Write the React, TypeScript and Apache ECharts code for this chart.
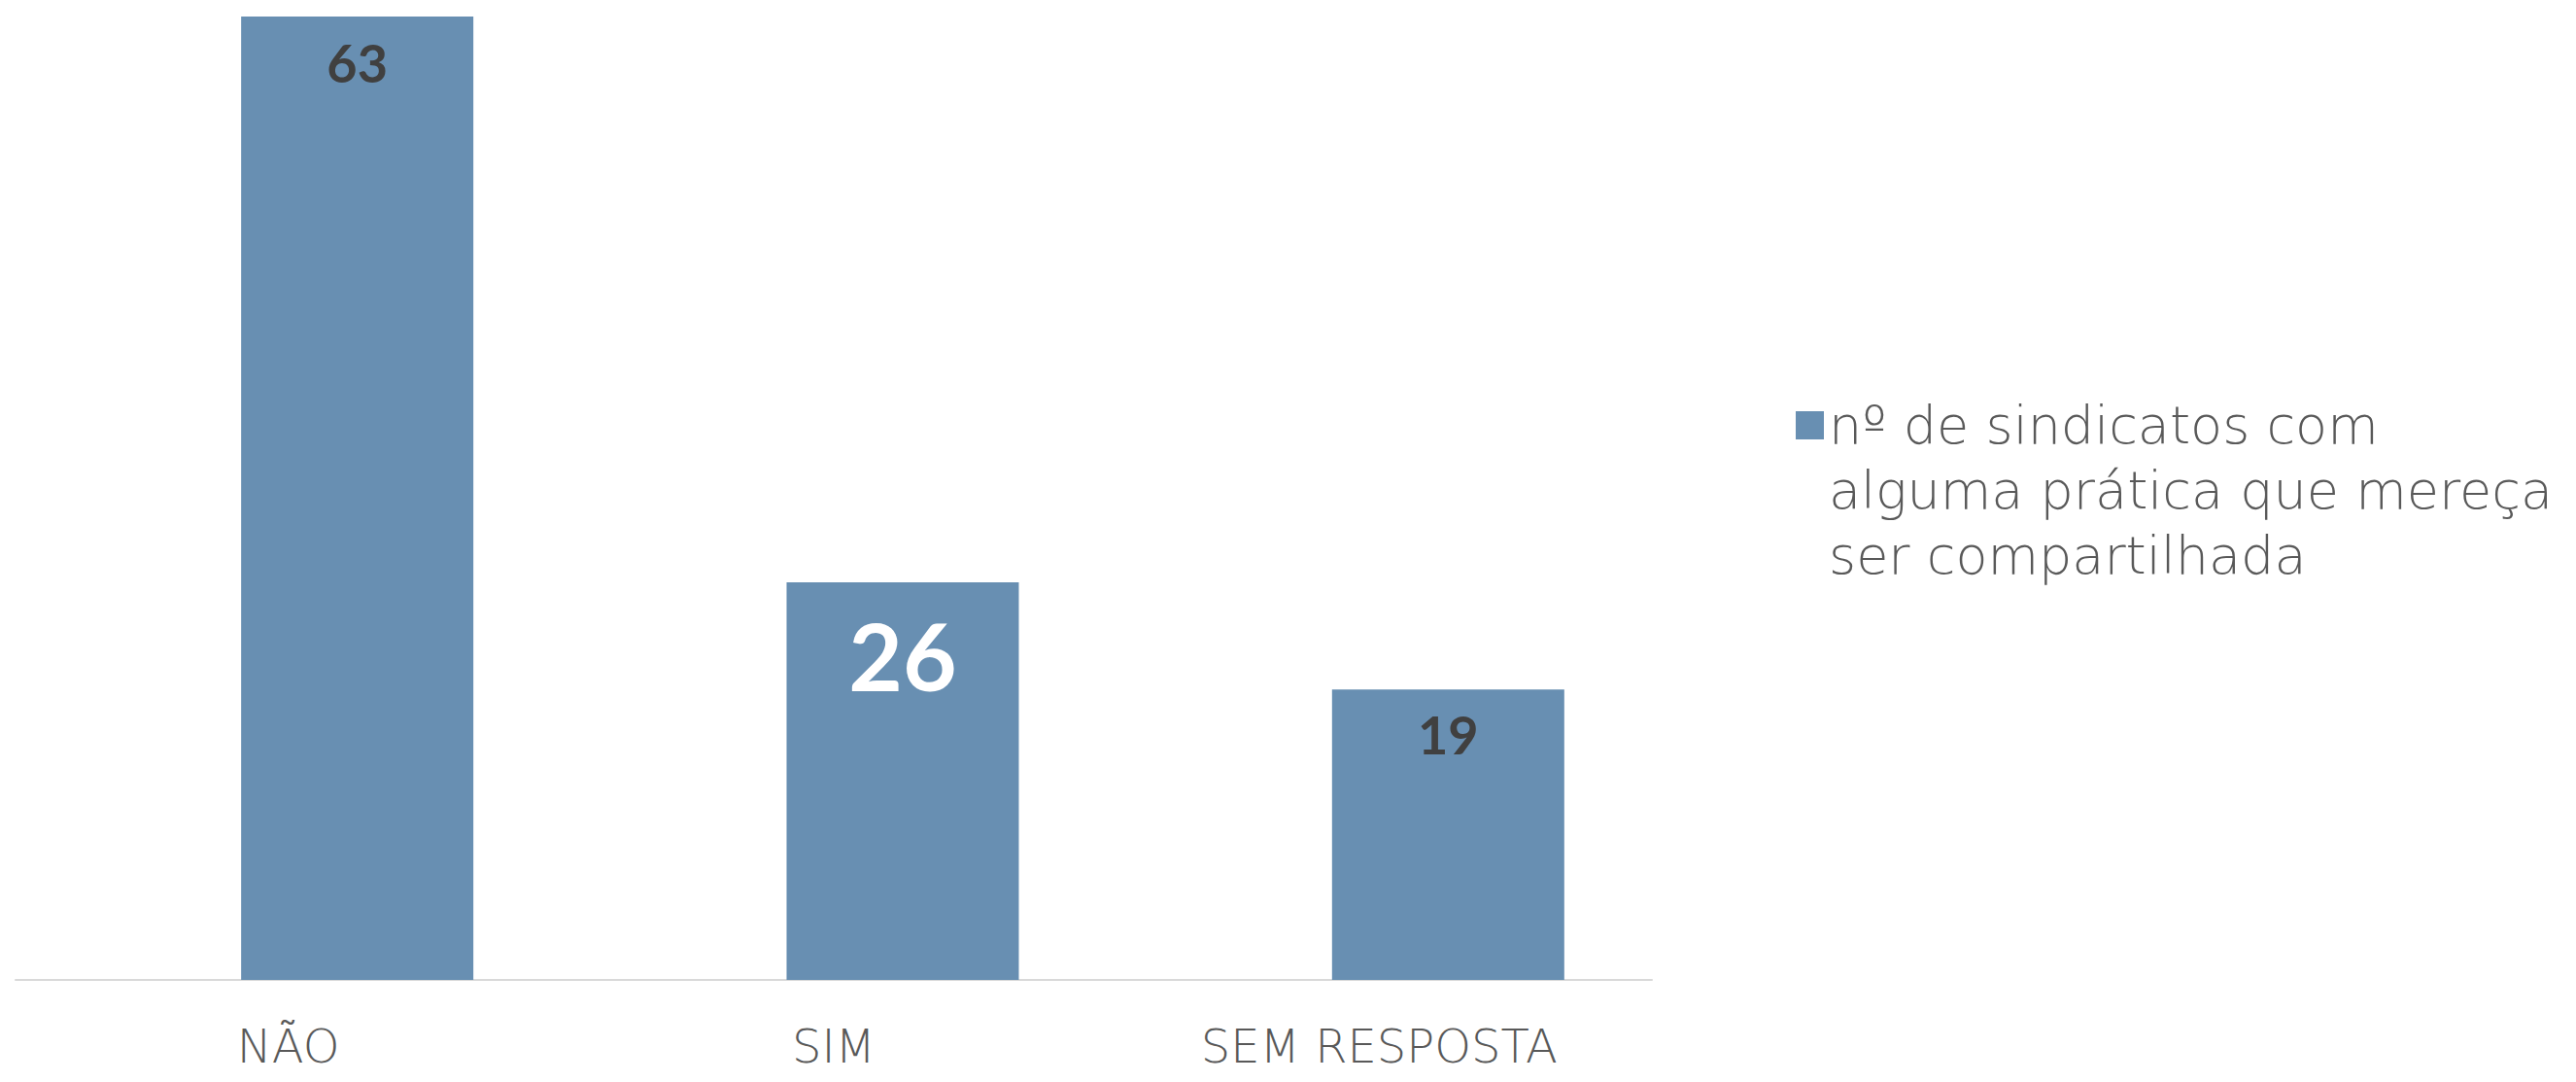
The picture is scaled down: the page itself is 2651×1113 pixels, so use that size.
import React, { useEffect, useRef } from "react";
import * as echarts from "echarts";

const categories = ["NÃO", "SIM", "SEM RESPOSTA"];
const seriesName = "nº de sindicatos com alguma prática que mereça ser compartilhada";
const values = [63, 26, 19];
const legendLines = ["nº de sindicatos com", "alguma prática que mereça", "ser compartilhada"];

const labelFontSizes = [54, 96, 54];
const labelColors = ["#404040", "#ffffff", "#404040"];
const labelDistances = [20, 26, 19];

export default function App() {
  const ref = useRef<HTMLDivElement>(null);
  useEffect(() => {
    document.body.style.margin = "0";
    const chart = echarts.init(ref.current!, undefined, { renderer: "svg" });
    chart.setOption({
      animation: false,
      backgroundColor: "#ffffff",
      grid: { left: 16, right: 951, top: 17, bottom: 105, containLabel: false },
      xAxis: {
        type: "category",
        data: categories,
        axisLine: { show: true, lineStyle: { color: "#d9d9d9", width: 2 } },
        axisTick: { show: false },
        axisLabel: {
          color: "#595959",
          fontFamily: "'DejaVu Sans', sans-serif",
          fontWeight: 200,
          fontSize: 48,
          lineHeight: 48,
          margin: 44,
        },
      },
      yAxis: { type: "value", min: 0, max: 63, show: false, splitLine: { show: false } },
      legend: {
        data: [seriesName],
        orient: "vertical",
        left: 1843,
        top: 265,
        icon: "rect",
        itemWidth: 29,
        itemHeight: 29,
        itemGap: 10,
        formatter: () => "\n\n" + legendLines.join("\n"),
        textStyle: {
          color: "#595959",
          fontFamily: "'DejaVu Sans', sans-serif",
          fontWeight: 200,
          fontSize: 54,
          lineHeight: 67,
        },
      },
      series: [
        {
          name: "spacer",
          type: "bar",
          data: categories.map(() => null),
          barWidth: 239,
          barGap: "-40.6%",
          silent: true,
        },
        {
          name: seriesName,
          type: "bar",
          barWidth: 239,
          barGap: "-40.6%",
          itemStyle: { color: "#688fb2" },
          data: values.map((v, i) => ({
            value: v,
            label: {
              show: true,
              position: "insideTop",
              distance: labelDistances[i],
              fontSize: labelFontSizes[i],
              lineHeight: labelFontSizes[i],
              color: labelColors[i],
              fontWeight: "bold",
              fontFamily: "Lato, sans-serif",
            },
          })),
        },
      ],
    });
    return () => chart.dispose();
  }, []);
  return <div ref={ref} style={{ width: 2651, height: 1113 }} />;
}
